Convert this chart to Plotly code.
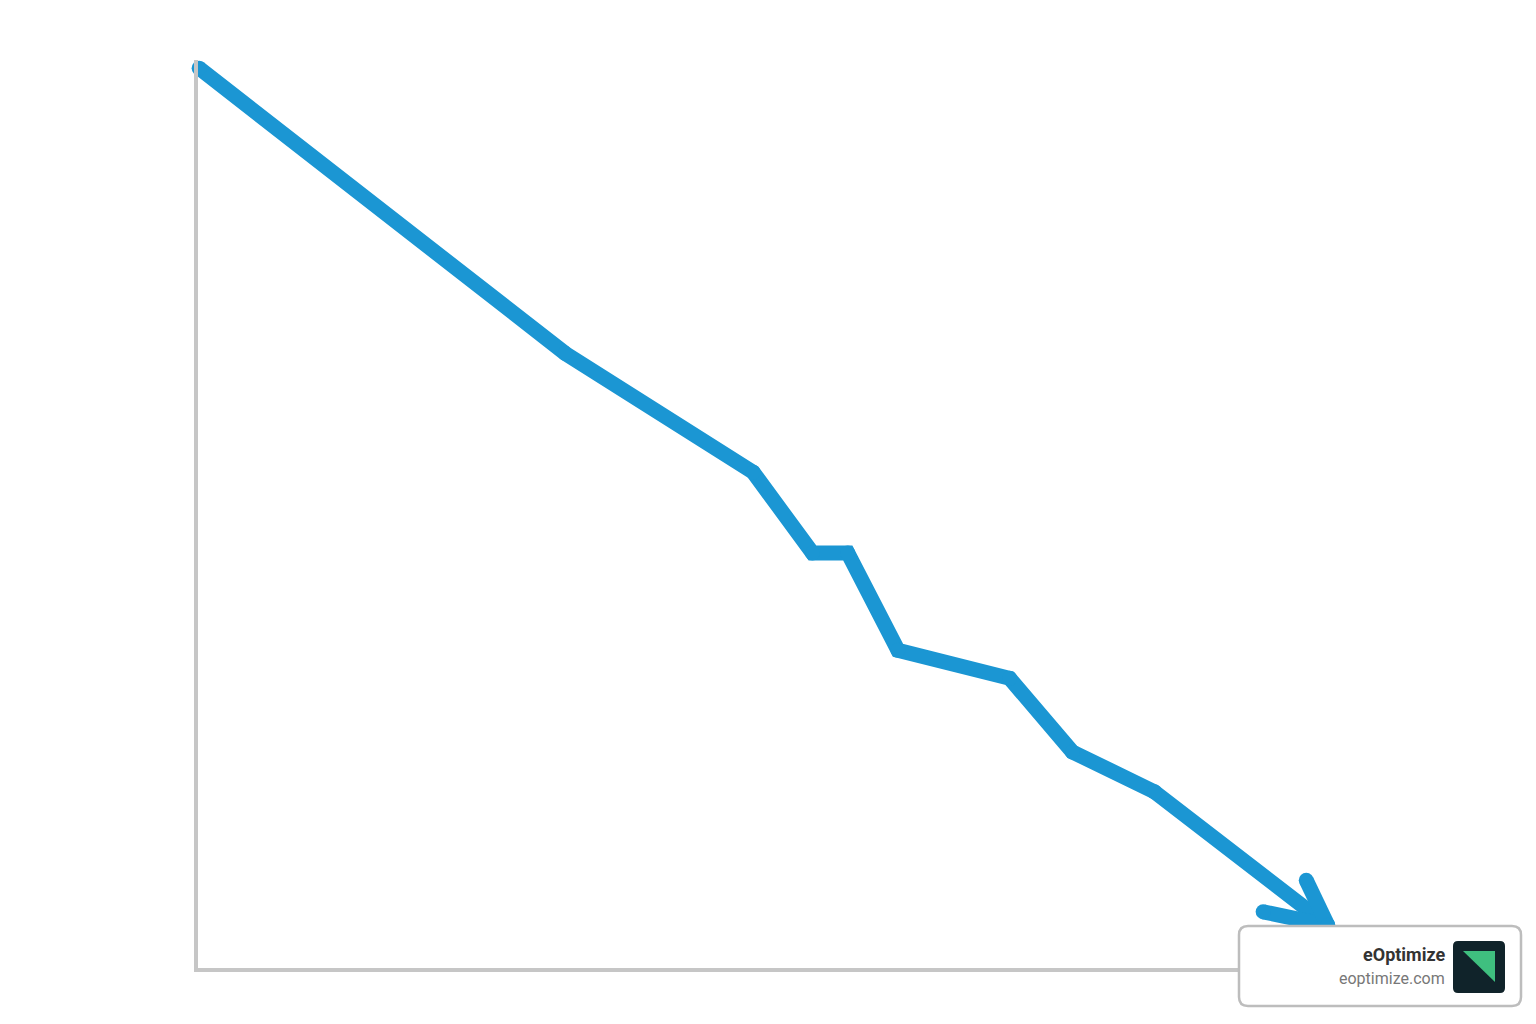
import math
import plotly.graph_objects as go

# data (arbitrary units, 0-100)
x_vals = [0.1, 32.2, 48.7, 53.9, 57.0, 61.4, 71.2, 76.7, 83.9, 99.1]
y_vals = [99.1, 67.7, 54.6, 45.7, 45.7, 35.0, 31.9, 23.8, 19.4, 4.7]

brand_name = "eOptimize"
brand_url = "eoptimize.com"

OFF = 8                      # default body margin of the html page
W, H = 1536 - OFF, 1024 - OFF
PL, PR, PT, PB = 198, 1338, 60, 968   # plot area in page pixels
PW, PH = PR - PL, PB - PT

X_RANGE = [0, 100]
Y_RANGE = [0, 100]

BLUE = "#1b96d3"
LW = 15

def px_to_data(px, py):
    return ((px - PL) / PW * (X_RANGE[1] - X_RANGE[0]) + X_RANGE[0],
            (PB - py) / PH * (Y_RANGE[1] - Y_RANGE[0]) + Y_RANGE[0])

def data_to_px(x, y):
    return (PL + (x - X_RANGE[0]) / (X_RANGE[1] - X_RANGE[0]) * PW,
            PB - (y - Y_RANGE[0]) / (Y_RANGE[1] - Y_RANGE[0]) * PH)

fig = go.Figure()
fig.add_trace(go.Scatter(x=x_vals, y=y_vals, mode="lines+markers",
                         line=dict(color=BLUE, width=LW),
                         marker=dict(color=BLUE, size=LW, line=dict(width=0)),
                         hoverinfo="skip"))

# open chevron arrowhead at the end of the last segment
tx, ty = data_to_px(x_vals[-1], y_vals[-1])
sx, sy = data_to_px(x_vals[-2], y_vals[-2])
back = math.atan2(sy - ty, sx - tx)
for ang, ln in [(-0.45, 66), (0.47, 50)]:
    ex = tx + ln * math.cos(back + ang)
    ey = ty + ln * math.sin(back + ang)
    dx0, dy0 = px_to_data(ex, ey)
    fig.add_trace(go.Scatter(x=[dx0, x_vals[-1]], y=[dy0, y_vals[-1]], mode="lines+markers",
                             line=dict(color=BLUE, width=LW),
                             marker=dict(color=BLUE, size=LW, line=dict(width=0)),
                             hoverinfo="skip"))

def pp(px, py):
    return (px - PL) / PW, (PB - py) / PH

def rrect(x0, y0, x1, y1, r):
    a = pp(x0 + r, y0); b = pp(x1 - r, y0); c = pp(x1, y0); d = pp(x1, y0 + r)
    e = pp(x1, y1 - r); f = pp(x1, y1); g = pp(x1 - r, y1); h = pp(x0 + r, y1)
    i = pp(x0, y1); j = pp(x0, y1 - r); k = pp(x0, y0 + r); l = pp(x0, y0)
    return (f"M{a[0]},{a[1]} L{b[0]},{b[1]} Q{c[0]},{c[1]} {d[0]},{d[1]} "
            f"L{e[0]},{e[1]} Q{f[0]},{f[1]} {g[0]},{g[1]} L{h[0]},{h[1]} "
            f"Q{i[0]},{i[1]} {j[0]},{j[1]} L{k[0]},{k[1]} Q{l[0]},{l[1]} {a[0]},{a[1]} Z")

shapes = [
    dict(type="path", xref="paper", yref="paper", path=rrect(1239, 926, 1521, 1006, 9),
         fillcolor="white", line=dict(color="#bdbdbd", width=2.5), layer="above"),
    dict(type="path", xref="paper", yref="paper", path=rrect(1453, 941, 1505, 993, 5),
         fillcolor="#10232a", line=dict(width=0), layer="above"),
]
t1 = pp(1463, 951); t2 = pp(1495, 951); t3 = pp(1495, 982)
shapes.append(dict(type="path", xref="paper", yref="paper",
                   path=f"M{t1[0]},{t1[1]} L{t2[0]},{t2[1]} L{t3[0]},{t3[1]} Z",
                   fillcolor="#3fbf7f", line=dict(width=0), layer="above"))

ax1 = pp(1447, 954); ax2 = pp(1447, 978)
annotations = [
    dict(xref="paper", yref="paper", x=ax1[0], y=ax1[1], text=f"<b>{brand_name}</b>",
         showarrow=False, xanchor="right", yanchor="middle",
         font=dict(family="Roboto", size=18, color="#333333")),
    dict(xref="paper", yref="paper", x=ax2[0], y=ax2[1], text=brand_url,
         showarrow=False, xanchor="right", yanchor="middle",
         font=dict(family="Roboto", size=16, color="#777777")),
]

fig.update_layout(
    width=W, height=H,
    margin=dict(l=PL - OFF, r=W + OFF - PR, t=PT - OFF, b=H + OFF - PB, pad=0),
    paper_bgcolor="white", plot_bgcolor="white",
    showlegend=False,
    xaxis=dict(range=X_RANGE, showgrid=False, zeroline=False, showticklabels=False,
               ticks="", showline=True, linecolor="#c6c6c6", linewidth=4, fixedrange=True),
    yaxis=dict(range=Y_RANGE, showgrid=False, zeroline=False, showticklabels=False,
               ticks="", showline=True, linecolor="#c6c6c6", linewidth=4, fixedrange=True),
    shapes=shapes,
    annotations=annotations,
)
fig.update_traces(cliponaxis=False)

fig.write_html("out.html", config={"displayModeBar": False})
